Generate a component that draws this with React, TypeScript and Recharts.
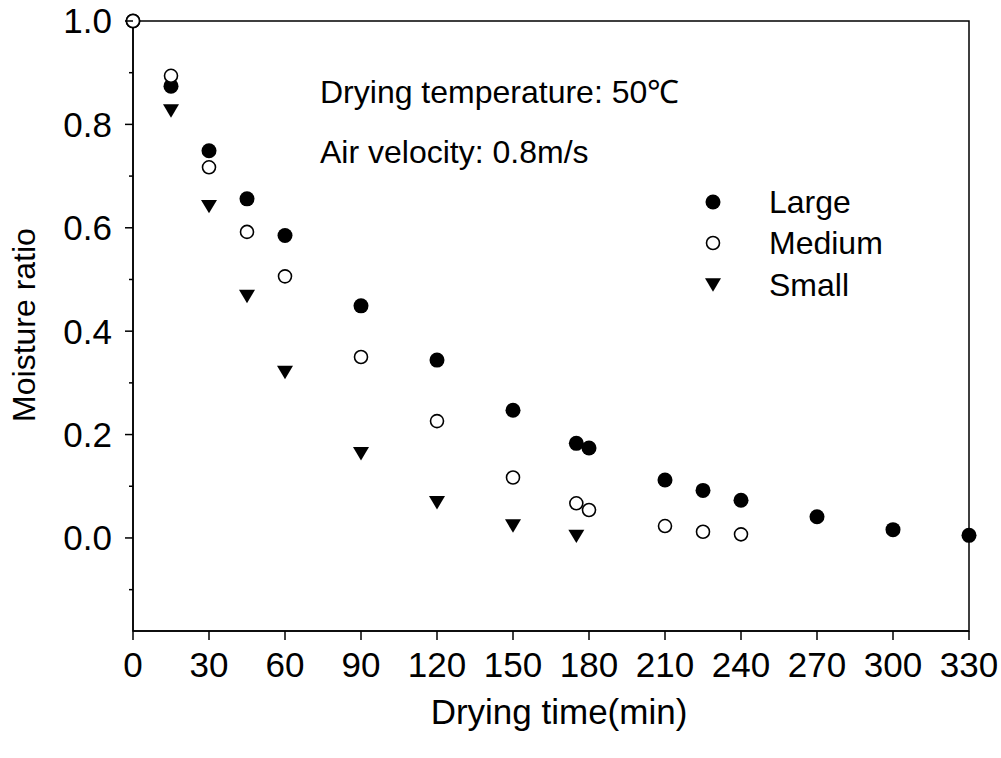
import { ScatterChart, Scatter, XAxis, YAxis, ReferenceArea } from "recharts";

const timeTicks = [0, 30, 60, 90, 120, 150, 180, 210, 240, 270, 300, 330];
const mrTicks = [-0.1, 0, 0.1, 0.2, 0.3, 0.4, 0.5, 0.6, 0.7, 0.8, 0.9, 1.0];

const largeTime = [0, 15, 30, 45, 60, 90, 120, 150, 175, 180, 210, 225, 240, 270, 300, 330];
const largeMR = [1.0, 0.874, 0.749, 0.656, 0.585, 0.449, 0.344, 0.247, 0.183, 0.174, 0.112, 0.092, 0.073, 0.041, 0.016, 0.005];

const mediumTime = [0, 15, 30, 45, 60, 90, 120, 150, 175, 180, 210, 225, 240];
const mediumMR = [1.0, 0.894, 0.717, 0.592, 0.506, 0.35, 0.226, 0.117, 0.067, 0.054, 0.023, 0.012, 0.007];

const smallTime = [15, 30, 45, 60, 90, 120, 150, 175];
const smallMR = [0.826, 0.641, 0.467, 0.32, 0.163, 0.068, 0.023, 0.003];

const FONT = "'Liberation Sans', Arial, sans-serif";
const PLOT_LEFT = 133;
const TICK_FONT = 35;

const toPoints = (xs: number[], ys: number[]) => xs.map((x, i) => ({ x, y: ys[i] }));

const FilledDot = (p: any) => <circle cx={p.cx} cy={p.cy} r={7.5} fill="#000" />;
const OpenDot = (p: any) => (
  <circle cx={p.cx} cy={p.cy} r={6.5} fill="#fff" stroke="#000" strokeWidth={1.6} />
);
const DownTriangle = (p: any) => (
  <path
    d={`M${p.cx - 8},${p.cy - 6.7} L${p.cx + 8},${p.cy - 6.7} L${p.cx},${p.cy + 6.7} Z`}
    fill="#000"
  />
);

// major ticks get a label, minor ones a short line only
const YTick = (props: any) => {
  const { x, y, payload } = props;
  const v = payload.value;
  const major = Math.round(v * 10) % 2 === 0;
  return (
    <g>
      <line x1={PLOT_LEFT - (major ? 8 : 4)} x2={PLOT_LEFT} y1={y} y2={y} stroke="#000" strokeWidth={1.5} />
      {major && (
        <text x={x} y={y} dy="0.355em" textAnchor="end" fontSize={TICK_FONT} fontFamily={FONT} fill="#000">
          {v.toFixed(1)}
        </text>
      )}
    </g>
  );
};

export default function App() {
  return (
    <div style={{ position: "absolute", left: 0, top: 0 }}>
      <ScatterChart width={1001} height={758} margin={{ top: 21, right: 32, bottom: 87, left: 0 }}>
        <XAxis
          type="number"
          dataKey="x"
          domain={[0, 330]}
          ticks={timeTicks}
          interval={0}
          height={40}
          tickSize={9}
          tickMargin={12}
          stroke="#000"
          strokeWidth={1.5}
          tick={{ fontSize: TICK_FONT, fontFamily: FONT, fill: "#000" }}
        />
        <YAxis
          type="number"
          dataKey="y"
          domain={[-0.18, 1.0]}
          ticks={mrTicks}
          interval={0}
          width={PLOT_LEFT}
          tickSize={8}
          tickMargin={13}
          tickLine={false}
          stroke="#000"
          strokeWidth={1.5}
          tick={<YTick />}
        />
        <ReferenceArea x1={0} x2={330} y1={-0.18} y2={1.0} fill="none" stroke="#000" strokeWidth={1.5} />
        <Scatter name="Large" data={toPoints(largeTime, largeMR)} shape={FilledDot} isAnimationActive={false} />
        <Scatter name="Medium" data={toPoints(mediumTime, mediumMR)} shape={OpenDot} isAnimationActive={false} />
        <Scatter name="Small" data={toPoints(smallTime, smallMR)} shape={DownTriangle} isAnimationActive={false} />

        <text x={320} y={103} fontSize={32} fontFamily={FONT} fill="#000">
          Drying temperature: 50℃
        </text>
        <text x={320} y={163} fontSize={32} fontFamily={FONT} fill="#000">
          Air velocity: 0.8m/s
        </text>

        <circle cx={713} cy={202} r={7.5} fill="#000" />
        <circle cx={713} cy={243} r={6.5} fill="#fff" stroke="#000" strokeWidth={1.6} />
        <path d="M705,278.3 L721,278.3 L713,291.7 Z" fill="#000" />
        <text x={769} y={202} dy="0.355em" fontSize={32} fontFamily={FONT} fill="#000">Large</text>
        <text x={769} y={243} dy="0.355em" fontSize={32} fontFamily={FONT} fill="#000">Medium</text>
        <text x={769} y={285} dy="0.355em" fontSize={32} fontFamily={FONT} fill="#000">Small</text>

        <text transform="translate(35,325) rotate(-90)" textAnchor="middle" fontSize={32} fontFamily={FONT} fill="#000">
          Moisture ratio
        </text>
        <text x={559} y={724} textAnchor="middle" fontSize={35} fontFamily={FONT} fill="#000">
          Drying time(min)
        </text>
      </ScatterChart>
    </div>
  );
}
